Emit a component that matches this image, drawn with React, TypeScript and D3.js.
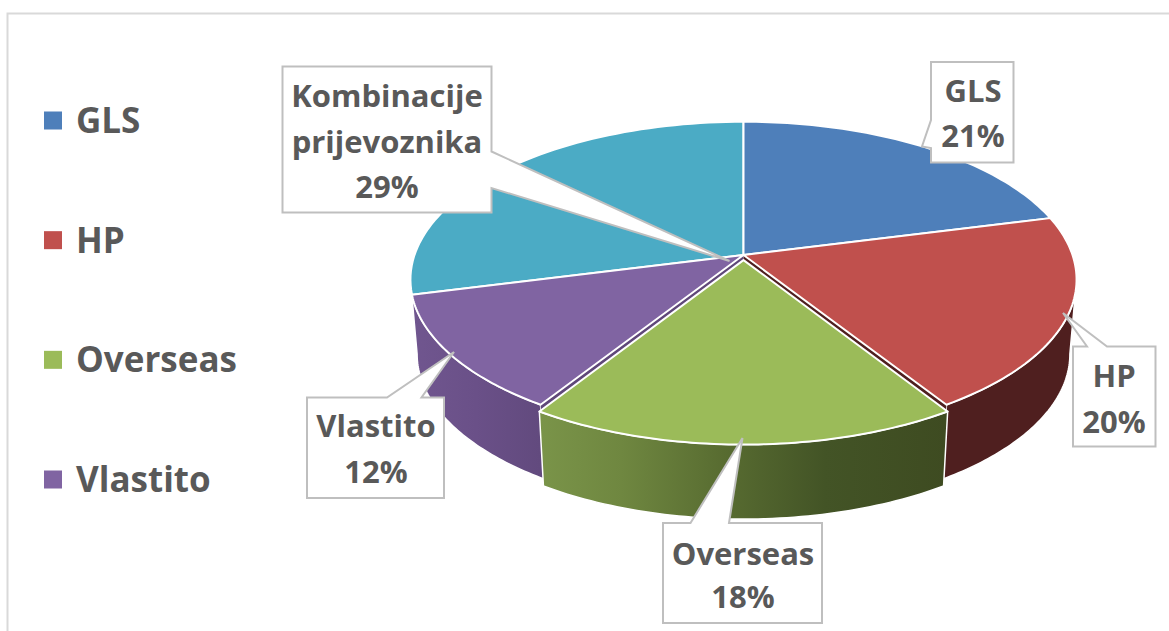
import React from "react";
import * as d3 from "d3";

const categories = ["GLS", "HP", "Overseas", "Vlastito", "Kombinacije prijevoznika"];
const shares = [21, 20, 18, 12, 29];
const sliceColors = ["#4e7fba", "#c0504d", "#9bbb59", "#8064a2", "#4babc5"];
const legendCategories = ["GLS", "HP", "Overseas", "Vlastito"];

const W = 1169, H = 631;
const CX = 743.5, CY = 255, RX = 329, RY = 154, PERSP = 0.1556;
const DEPTH = 74.5, BASE_SCALE = 0.98, EXPLODE = 0.033;
const FONT = "'Open Sans', Lato, sans-serif";
const INK = "#595959";
const BOX = "#bfbfbf";

type P = [number, number];
const project = (a: number, e = 0): P => {
  const u = Math.sin(a), v = -Math.cos(a) + e;
  const d = 1 - PERSP * v;
  return [CX + (RX * u) / d, CY + (RY * v) / d];
};
const toBase = ([x, y]: P): P => [CX + (x - CX) * BASE_SCALE, y + DEPTH];
const rim = (a0: number, a1: number, e = 0): P[] =>
  d3.range(0, 61).map((i) => project(a0 + ((a1 - a0) * i) / 60, e));

const lineGen = d3.line<P>();
const closed = (pts: P[]) => lineGen(pts) + "Z";

const pieGen = d3.pie<number>().sort(null).value((d) => d);
const arcs = pieGen(shares);

const silhouetteRight = Math.acos(-PERSP);
const silhouetteLeft = 2 * Math.PI - silhouetteRight;

const top = (i: number) => {
  const a = arcs[i];
  const e = i === 2 ? EXPLODE : 0;
  const apex: P = [CX, CY + (RY * e) / (1 - PERSP * e)];
  return closed([apex, ...rim(a.startAngle, a.endAngle, e)]);
};
const wall = (a0: number, a1: number, e = 0) => {
  const r = rim(a0, a1, e);
  return closed([...r, ...r.slice().reverse().map(toBase)]);
};
const cutFace = (a: number) => {
  const apex: P = [CX, CY];
  const c = project(a);
  return closed([apex, c, toBase(c), toBase(apex)]);
};

const legendY = d3.scalePoint<string>().domain(legendCategories).range([120.5, 479.5]);

const pct = (i: number) => `${shares[i]}%`;

type Callout = { pts: P[]; cx: number; lines: string[]; base: number[] };
const callouts: Callout[] = [
  {
    pts: [[282.5, 66.5], [491.5, 66.5], [491.5, 151.5], [729.5, 261], [491.5, 188], [491.5, 212.5], [282.5, 212.5]],
    cx: 387, lines: ["Kombinacije", "prijevoznika", pct(4)], base: [107, 153, 198],
  },
  {
    pts: [[931, 62], [1013.5, 62], [1013.5, 162.5], [931, 162.5], [931, 148], [922, 146.5], [931, 120]],
    cx: 973, lines: [categories[0], pct(0)], base: [102, 147],
  },
  {
    pts: [[1073, 346.5], [1087, 346.5], [1063, 313], [1107, 346.5], [1155.5, 346.5], [1155.5, 446.5], [1073, 446.5]],
    cx: 1114, lines: [categories[1], pct(1)], base: [387, 433],
  },
  {
    pts: [[663, 523], [690.5, 523], [742.5, 438], [729, 523], [822, 523], [822, 623], [663, 623]],
    cx: 743, lines: [categories[2], pct(2)], base: [565, 608],
  },
  {
    pts: [[307, 397.5], [387, 397.5], [454, 352], [421.5, 397.5], [444, 397.5], [444, 498], [307, 498]],
    cx: 376, lines: [categories[3], pct(3)], base: [437, 483],
  },
];

export default function App() {
  return (
    <svg width={W} height={H} viewBox={`0 0 ${W} ${H}`} style={{ position: "absolute", left: 0, top: 0, display: "block", background: "#fff" }}>
      <defs>
        <linearGradient id="greenWall" gradientUnits="userSpaceOnUse" x1={540} x2={947} y1={0} y2={0}>
          <stop offset="0" stopColor="#7a9449" />
          <stop offset="0.2" stopColor="#6f8740" />
          <stop offset="0.45" stopColor="#586c31" />
          <stop offset="0.7" stopColor="#435426" />
          <stop offset="1" stopColor="#3e4b21" />
        </linearGradient>
        <linearGradient id="purpleWall" gradientUnits="userSpaceOnUse" x1={412} x2={540} y1={0} y2={0}>
          <stop offset="0" stopColor="#70568f" />
          <stop offset="0.5" stopColor="#6a5088" />
          <stop offset="1" stopColor="#624a7e" />
        </linearGradient>
      </defs>

      <path d={`M7.5 ${H + 5}V13.5H${W + 5}`} fill="none" stroke="#d9d9d9" strokeWidth={2} />

      {legendCategories.map((c, i) => (
        <g key={c}>
          <rect x={44} y={legendY(c)! - 9} width={18} height={18} fill={sliceColors[i]} />
          <text x={76} y={legendY(c)! + 12.5} fontFamily={FONT} fontWeight={700} fontSize={35} fill={INK}>{c}</text>
        </g>
      ))}

      {/* side walls */}
      <path d={wall(silhouetteRight, arcs[1].endAngle)} fill="#4f1f1f" stroke="#fff" strokeWidth={1.5} strokeLinejoin="round" />
      <path d={wall(arcs[3].startAngle, silhouetteLeft)} fill="url(#purpleWall)" stroke="#fff" strokeWidth={1.5} strokeLinejoin="round" />
      <path d={cutFace(arcs[1].endAngle)} fill="#4f1f1f" />
      <path d={cutFace(arcs[3].startAngle)} fill="#5f4779" />
      <path d={wall(arcs[2].startAngle, arcs[2].endAngle, EXPLODE)} fill="url(#greenWall)" stroke="#fff" strokeWidth={1.5} strokeLinejoin="round" />

      {/* top faces */}
      {[4, 0, 1, 3, 2].map((i) => (
        <path key={categories[i]} d={top(i)} fill={sliceColors[i]} stroke="#fff" strokeWidth={2} strokeLinejoin="round" />
      ))}

      {callouts.map((c) => (
        <g key={c.lines[0]}>
          <path d={closed(c.pts)} fill="#fff" stroke={BOX} strokeWidth={2} strokeLinejoin="miter" />
          {c.lines.map((t, j) => (
            <text key={t} x={c.cx} y={c.base[j]} textAnchor="middle" fontFamily={FONT} fontWeight={700} fontSize={31} fill={INK}>{t}</text>
          ))}
        </g>
      ))}
    </svg>
  );
}
